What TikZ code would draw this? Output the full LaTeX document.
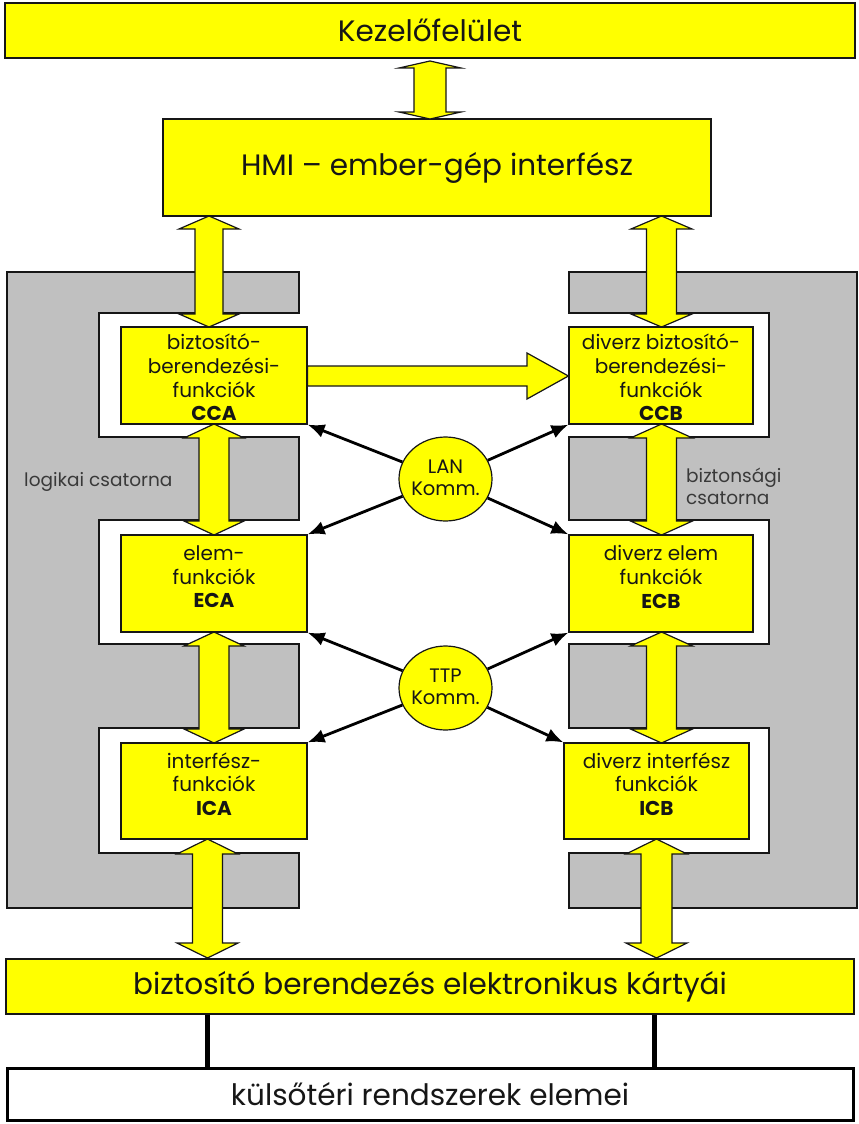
\documentclass[tikz,border=0pt]{standalone}
\usepackage{fontspec}
\setmainfont{Poppins}
\usetikzlibrary{arrows.meta,shapes.geometric}
\definecolor{yel}{RGB}{255,255,0}
\definecolor{gr}{RGB}{192,192,192}
\definecolor{ink}{RGB}{22,22,22}
\newcommand\blockarrowv[6]{% x, ytop, ybot, shaft half, head half, head length
  \draw[barrow] (#1,#2) -- ({#1+#5},{#2+#6}) -- ({#1+#4},{#2+#6}) -- ({#1+#4},{#3-#6}) -- ({#1+#5},{#3-#6}) -- (#1,#3)
   -- ({#1-#5},{#3-#6}) -- ({#1-#4},{#3-#6}) -- ({#1-#4},{#2+#6}) -- ({#1-#5},{#2+#6}) -- cycle;}
\begin{document}
\begin{tikzpicture}[x=1pt,y=-1pt,
  ybox/.style={draw=ink,line width=1.2pt,fill=yel,inner sep=0pt,rectangle},
  wbox/.style={draw=black,line width=3pt,fill=white,inner sep=0pt,rectangle},
  gpanel/.style={draw=ink,line width=1.2pt,fill=gr,line join=miter},
  barrow/.style={draw=ink,line width=1.2pt,fill=yel,line join=miter},
  comm/.style={-{Latex[length=17pt,width=14pt]},line width=2.8pt,draw=black},
  cell/.style={ellipse,draw=ink,line width=1.2pt,fill=yel,minimum width=93pt,minimum height=84pt,inner sep=0pt},
  bigtxt/.style={font=\fontsize{29.5}{33}\selectfont,text=ink},
  btxt/.style={font=\fontsize{20}{23.6}\selectfont,align=center,text=ink,inner sep=0pt},
  ctxt/.style={font=\fontsize{19.5}{22.5}\selectfont,align=center,text=ink,inner sep=0pt},
  stxt/.style={font=\fontsize{18.5}{22}\selectfont,text=ink!85,inner sep=0pt},
  link/.style={line width=5pt,draw=black}
]
\useasboundingbox (0,0) rectangle (859,1124);

% grey channel panels
\draw[gpanel] (7,272) -- (299,272) -- (299,313) -- (99,313) -- (99,437) -- (299,437) -- (299,520) -- (99,520)
  -- (99,644) -- (299,644) -- (299,728) -- (99,728) -- (99,853) -- (299,853) -- (299,908) -- (7,908) -- cycle;
\draw[gpanel] (569,272) -- (857,272) -- (857,908) -- (569,908) -- (569,853) -- (769,853) -- (769,728) -- (569,728)
  -- (569,644) -- (769,644) -- (769,520) -- (569,520) -- (569,437) -- (769,437) -- (769,313) -- (569,313) -- cycle;

% boxes
\node[ybox,minimum width=850pt,minimum height=55pt,bigtxt] (kez) at (430,30.5) {Kezelőfelület};
\node[ybox,minimum width=548pt,minimum height=97pt,bigtxt] (hmi) at (437,167.5) {HMI – ember-gép interfész};
\node[ybox,minimum width=186pt,minimum height=97pt] (CCA) at (214,375.5) {};
\node[ybox,minimum width=186pt,minimum height=97pt] (ECA) at (214,583.5) {};
\node[ybox,minimum width=186pt,minimum height=96pt] (ICA) at (214,791) {};
\node[ybox,minimum width=184pt,minimum height=97pt] (CCB) at (661,375.5) {};
\node[ybox,minimum width=184pt,minimum height=97pt] (ECB) at (661,583.5) {};
\node[ybox,minimum width=185pt,minimum height=96pt] (ICB) at (656.5,791) {};
\node[ybox,minimum width=848pt,minimum height=55pt,bigtxt] (bot) at (430,986.5) {biztosító berendezés elektronikus kártyái};
\node[wbox,minimum width=846pt,minimum height=52pt,bigtxt] (kul) at (430,1094) {külsőtéri rendszerek elemei};

% box texts
\node[btxt] (CCAt) at (214,377.5) {biztosító-\\berendezési-\\funkciók\\\textbf{CCA}};
\node[btxt] (CCBt) at (661,377.5) {diverz biztosító-\\berendezési-\\funkciók\\\textbf{CCB}};
\node[btxt] (ECAt) at (214,577) {elem-\\funkciók\\\textbf{ECA}};
\node[btxt] (ECBt) at (661,577) {diverz elem\\funkciók\\\textbf{ECB}};
\node[btxt] (ICAt) at (214,784) {interfész-\\funkciók\\\textbf{ICA}};
\node[btxt] (ICBt) at (656.5,784) {diverz interfész\\funkciók\\\textbf{ICB}};

\node[stxt,anchor=west] (logt) at (24,482) {logikai csatorna};
\node[stxt,anchor=west,align=left] (bizt) at (686,486) {biztonsági\\csatorna};

% block arrows
\blockarrowv{430}{61}{119}{16}{31}{7}
\blockarrowv{209}{216}{327}{14}{30}{13}
\blockarrowv{661.5}{216}{327}{15}{30.5}{13}
\blockarrowv{214}{424}{535}{15}{30}{14}
\blockarrowv{661.5}{424}{535}{15}{31}{14}
\blockarrowv{214}{632}{743}{15}{30}{14}
\blockarrowv{661.5}{632}{743}{15}{31}{14}
\blockarrowv{207.5}{839}{958}{15}{30.5}{15}
\blockarrowv{656.5}{839}{958}{15.5}{30.5}{15}
\draw[barrow] (CCA.east |- 0,366) -- (527,366) -- (527,353) -- (CCB.west |- 0,376) -- (527,399) -- (527,386) -- (CCA.east |- 0,386) -- cycle;

% communication nodes
\node[cell] (LAN) at (445.5,479) {};
\node[ctxt] (LANt) at (445.5,478) {LAN\\Komm.};
\node[cell] (TTP) at (445.5,688) {};
\node[ctxt] (TTPt) at (445.5,687) {TTP\\Komm.};

\draw[comm] (LAN) -- (CCA.south east);
\draw[comm] (LAN) -- (CCB.south west);
\draw[comm] (LAN) -- (ECA.north east);
\draw[comm] (LAN) -- (ECB.north west);
\draw[comm] (TTP) -- (ECA.south east);
\draw[comm] (TTP) -- (ECB.south west);
\draw[comm] (TTP) -- (ICA.north east);
\draw[comm] (TTP) -- (ICB.north west);

% links to field elements
\draw[link] ([xshift=-223pt]bot.south) -- ([xshift=-223pt]kul.north);
\draw[link] ([xshift=224pt]bot.south) -- ([xshift=224pt]kul.north);
\end{tikzpicture}
\end{document}
